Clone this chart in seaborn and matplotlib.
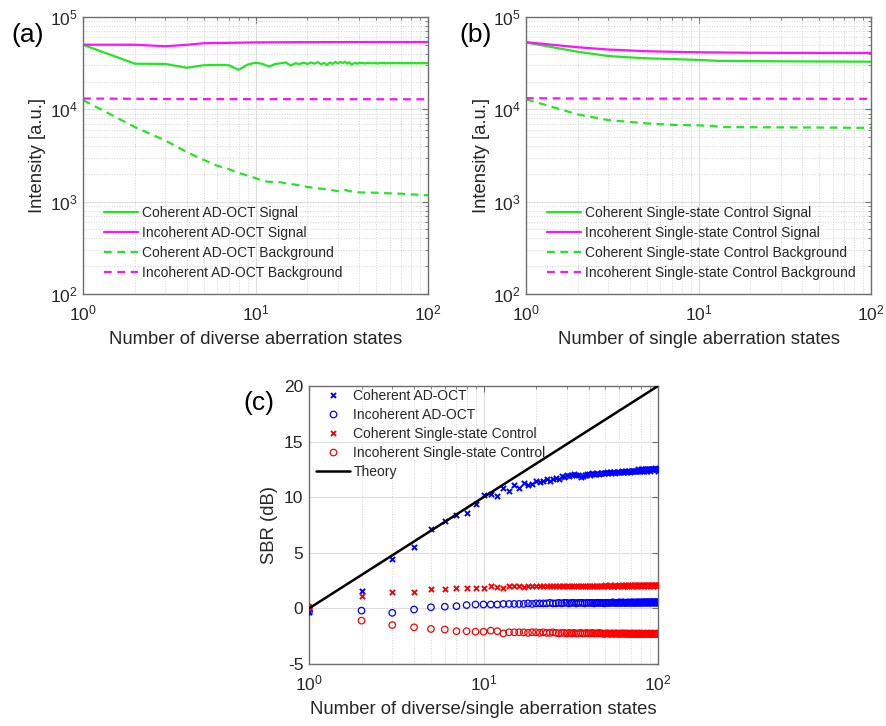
import numpy as np
import pandas as pd
import matplotlib
matplotlib.use("Agg")
import matplotlib.pyplot as plt
import seaborn as sns
from matplotlib.lines import Line2D
from matplotlib.ticker import LogLocator, NullFormatter, FixedLocator

# ---------------- data ----------------
N_full = list(range(1, 101))

# Panel (a): AD-OCT
a_coh_sig = [50000, 31200, 31000, 28200, 30000, 30300, 30000, 26800, 30500, 32000,
             31000, 29000, 31000, 31500, 32200, 29800, 31500, 31000, 32000, 31000,
             32200, 31200, 32400, 30800, 31800, 30200, 32200, 31000, 32600, 31500,
             32600, 31800, 32800, 31300, 32400, 30600, 31300, 31900, 31100, 32100,
             31500, 31900, 31300, 31800, 31600, 32000, 31400, 31800, 31500, 31900,
             31300, 31700, 31600, 31900, 31500, 31800, 31400, 31700, 31600, 31900,
             31500, 31800, 31600, 31700, 31500, 31800, 31600, 31900, 31500, 31700,
             31600, 31800, 31500, 31700, 31600, 31800, 31700, 31600, 31800, 31500,
             31700, 31600, 31800, 31600, 31700, 31500, 31700, 31600, 31800, 31600,
             31700, 31600, 31700, 31500, 31700, 31600, 31700, 31600, 31700, 31600]
a_inc_sig_N = [1, 2, 3, 4, 5, 6, 8, 10, 15, 20, 30, 50, 100]
a_inc_sig = [50100, 50100, 48200, 50000, 52000, 52300, 52700, 53100, 53300, 53400, 53500, 53600, 53600]
a_coh_bg_N = [1, 2, 3, 4, 5, 6, 7, 8, 9, 10, 11, 12, 13, 14, 15, 17, 20, 25, 30, 33, 35, 40, 50, 60, 70, 80, 100]
a_coh_bg = [12600, 6420, 4600, 3440, 2840, 2450, 2250, 2040, 1920, 1800, 1680, 1640, 1640, 1620, 1580, 1530,
            1440, 1370, 1300, 1340, 1300, 1260, 1250, 1230, 1220, 1200, 1170]
a_inc_bg_N = [1, 2, 5, 10, 100]
a_inc_bg = [13100, 13000, 12900, 12900, 12850]

# Panel (b): single-state control
b_coh_sig_N = [1, 2, 3, 4, 5, 7, 10, 13, 20, 30, 50, 100]
b_coh_sig = [53000, 42000, 37800, 36500, 35700, 35000, 34300, 33500, 33300, 33100, 33000, 32800]
b_inc_sig_N = [1, 2, 3, 4, 5, 7, 10, 15, 20, 30, 50, 100]
b_inc_sig = [53400, 47000, 44400, 43400, 42600, 42000, 41500, 41200, 41000, 40900, 40800, 40800]
b_coh_bg_N = [1, 2, 3, 4, 5, 7, 10, 12, 14, 20, 50, 100]
b_coh_bg = [12850, 8800, 7650, 7300, 7050, 6800, 6700, 6600, 6420, 6400, 6350, 6300]
b_inc_bg_N = [1, 2, 5, 10, 100]
b_inc_bg = [13200, 13100, 13050, 13050, 13000]

# Panel (c): SBR (dB)
c_coh_ad = [-0.3, 1.6, 4.4, 5.5, 7.1, 7.9, 8.4, 8.6, 9.4, 10.2,
            10.3, 10.1, 10.8, 10.6, 11.1, 10.8, 11.3, 11.1, 11.2, 11.5,
            11.4, 11.5, 11.6, 11.5, 11.6, 11.7, 11.6, 11.9, 11.8, 12.0,
            11.9, 12.0, 12.1, 12.0, 12.0, 11.8, 11.9, 12.0, 12.1, 12.1,
            12.0, 12.2, 12.1, 12.1, 12.2, 12.1, 12.2, 12.2, 12.2, 12.2,
            12.3, 12.2, 12.3, 12.2, 12.3, 12.3, 12.2, 12.3, 12.3, 12.3,
            12.3, 12.4, 12.3, 12.3, 12.4, 12.3, 12.4, 12.4, 12.3, 12.4,
            12.4, 12.4, 12.4, 12.4, 12.4, 12.4, 12.5, 12.4, 12.4, 12.5,
            12.4, 12.5, 12.4, 12.5, 12.5, 12.4, 12.5, 12.5, 12.5, 12.4,
            12.5, 12.5, 12.5, 12.5, 12.5, 12.6, 12.5, 12.5, 12.5, 12.4]
c_inc_ad = [-0.3, -0.2, -0.4, -0.1, 0.1, 0.15, 0.2, 0.3, 0.35, 0.35,
            0.35, 0.35, 0.4, 0.4, 0.4, 0.4, 0.4, 0.45, 0.4, 0.45,
            0.45, 0.45, 0.45, 0.5, 0.45, 0.45, 0.5, 0.45, 0.5, 0.5,
            0.45, 0.5, 0.5, 0.45, 0.5, 0.5, 0.5, 0.45, 0.5, 0.5,
            0.5, 0.5, 0.45, 0.5, 0.5, 0.5, 0.5, 0.5, 0.45, 0.5,
            0.5, 0.5, 0.5, 0.5, 0.55, 0.5, 0.5, 0.5, 0.5, 0.55,
            0.5, 0.5, 0.55, 0.5, 0.5, 0.5, 0.55, 0.5, 0.5, 0.55,
            0.5, 0.55, 0.5, 0.5, 0.55, 0.5, 0.55, 0.5, 0.55, 0.5,
            0.55, 0.5, 0.55, 0.55, 0.5, 0.55, 0.55, 0.5, 0.55, 0.55,
            0.5, 0.55, 0.55, 0.55, 0.5, 0.55, 0.55, 0.55, 0.5, 0.55]
c_coh_ss = [0.1, 1.15, 1.45, 1.5, 1.7, 1.7, 1.8, 1.8, 1.85, 1.8,
            2.0, 1.9, 1.8, 2.0, 2.0, 2.0, 1.95, 2.0, 2.0, 2.0,
            2.0, 2.05, 2.0, 2.0, 2.05, 2.0, 2.0, 2.05, 2.0, 2.05,
            2.0, 2.05, 2.05, 2.0, 2.05, 2.0, 2.05, 2.05, 2.0, 2.05,
            2.05, 2.0, 2.05, 2.05, 2.05, 2.0, 2.05, 2.05, 2.05, 2.1,
            2.05, 2.05, 2.1, 2.05, 2.05, 2.05, 2.1, 2.05, 2.05, 2.1,
            2.05, 2.1, 2.05, 2.05, 2.1, 2.05, 2.1, 2.05, 2.1, 2.05,
            2.1, 2.05, 2.1, 2.1, 2.05, 2.1, 2.05, 2.1, 2.1, 2.05,
            2.1, 2.1, 2.05, 2.1, 2.1, 2.05, 2.1, 2.1, 2.1, 2.05,
            2.1, 2.1, 2.1, 2.05, 2.1, 2.1, 2.1, 2.1, 2.05, 2.1]
c_inc_ss = [0.1, -1.1, -1.5, -1.7, -1.85, -1.9, -2.05, -2.05, -2.1, -2.1,
            -2.0, -2.05, -2.25, -2.15, -2.15, -2.15, -2.15, -2.2, -2.15, -2.15,
            -2.2, -2.15, -2.2, -2.2, -2.15, -2.2, -2.25, -2.2, -2.2, -2.25,
            -2.2, -2.25, -2.2, -2.25, -2.25, -2.2, -2.25, -2.25, -2.2, -2.25,
            -2.25, -2.2, -2.25, -2.25, -2.25, -2.2, -2.25, -2.25, -2.3, -2.25,
            -2.25, -2.25, -2.3, -2.25, -2.25, -2.3, -2.25, -2.25, -2.3, -2.25,
            -2.3, -2.25, -2.25, -2.3, -2.25, -2.3, -2.25, -2.3, -2.3, -2.25,
            -2.3, -2.25, -2.3, -2.3, -2.25, -2.3, -2.3, -2.25, -2.3, -2.3,
            -2.25, -2.3, -2.3, -2.3, -2.25, -2.3, -2.3, -2.3, -2.25, -2.3,
            -2.3, -2.3, -2.25, -2.3, -2.3, -2.3, -2.3, -2.25, -2.3, -2.3]
theory_N = [1, 2, 5, 10, 20, 50, 100]
theory_db = [0.0, 3.01, 6.99, 10.0, 13.01, 16.99, 20.0]

legend_a = ["Coherent AD-OCT Signal", "Incoherent AD-OCT Signal",
            "Coherent AD-OCT Background", "Incoherent AD-OCT Background"]
legend_b = ["Coherent Single-state Control Signal", "Incoherent Single-state Control Signal",
            "Coherent Single-state Control Background", "Incoherent Single-state Control Background"]
legend_c = ["Coherent AD-OCT", "Incoherent AD-OCT", "Coherent Single-state Control",
            "Incoherent Single-state Control", "Theory"]

# ---------------- style ----------------
sns.set_style("white")
plt.rcParams['font.family'] = ['Liberation Sans', 'DejaVu Sans']
plt.rcParams['mathtext.fontset'] = 'custom'
plt.rcParams['mathtext.rm'] = 'Liberation Sans'
plt.rcParams['mathtext.it'] = 'Liberation Sans:italic'
plt.rcParams['mathtext.bf'] = 'Liberation Sans:bold'
plt.rcParams['axes.unicode_minus'] = False

GREEN = '#22e622'
MAG = '#ff10ff'
BLUE = '#0000ff'
RED = '#ff0000'
TXT = '#262626'
LW = 1.6
DASH = (3.5, 2.5)
LABEL_FS = 13.3
LEG_FS = 10.0

fig = plt.figure(figsize=(8.86, 7.26), dpi=100)
W, H = 886, 726


def add_ax(l, t, r, b):
    return fig.add_axes([l / W, 1 - b / H, (r - l) / W, (b - t) / H])


ax_a = add_ax(83, 17, 428, 294)
ax_b = add_ax(526, 17, 871, 294)
ax_c = add_ax(309, 386, 658, 664)


def style(ax, logy=True):
    ax.set_xscale('log')
    ax.set_xlim(1, 100)
    if logy:
        ax.set_yscale('log')
        ax.set_ylim(1e2, 1e5)
        ax.yaxis.set_minor_locator(LogLocator(base=10, subs=np.arange(2, 10)))
        ax.yaxis.set_minor_formatter(NullFormatter())
    ax.xaxis.set_minor_locator(LogLocator(base=10, subs=np.arange(2, 10)))
    ax.xaxis.set_minor_formatter(NullFormatter())
    for s in ax.spines.values():
        s.set_visible(True)
        s.set_color('#6e6e6e')
        s.set_linewidth(1.0)
    ax.tick_params(which='both', direction='in', top=True, right=True,
                   color='#6e6e6e', labelcolor=TXT, labelsize=12.5)
    ax.tick_params(which='major', length=4, width=0.8)
    ax.tick_params(which='minor', length=2, width=0.6)
    ax.tick_params(axis='x', which='major', pad=7)
    ax.tick_params(axis='y', which='major', pad=4)
    ax.grid(True, which='major', color='#dedede', linewidth=0.8, linestyle='-')
    if logy:
        ax.grid(True, which='minor', color='#d4d4d4', linewidth=0.7, linestyle=':')
    else:
        ax.grid(True, which='minor', axis='x', color='#d4d4d4', linewidth=0.7, linestyle=':')
    ax.set_axisbelow(True)


def line(ax, x, y, color, ls):
    sns.lineplot(x=x, y=y, ax=ax, color=color, linewidth=LW, linestyle=ls,
                 estimator=None, sort=True)
    if ls == '--':
        ax.lines[-1].set_dashes(DASH)


# ---- panel (a)
line(ax_a, N_full, a_coh_sig, GREEN, '-')
line(ax_a, a_inc_sig_N, a_inc_sig, MAG, '-')
line(ax_a, a_coh_bg_N, a_coh_bg, GREEN, '--')
line(ax_a, a_inc_bg_N, a_inc_bg, MAG, '--')

# ---- panel (b)
line(ax_b, b_coh_sig_N, b_coh_sig, GREEN, '-')
line(ax_b, b_inc_sig_N, b_inc_sig, MAG, '-')
line(ax_b, b_coh_bg_N, b_coh_bg, GREEN, '--')
line(ax_b, b_inc_bg_N, b_inc_bg, MAG, '--')

for ax, labels in ((ax_a, legend_a), (ax_b, legend_b)):
    style(ax, logy=True)
    handles = [Line2D([], [], color=GREEN, lw=LW, ls='-'),
               Line2D([], [], color=MAG, lw=LW, ls='-'),
               Line2D([], [], color=GREEN, lw=LW, ls=(0, DASH)),
               Line2D([], [], color=MAG, lw=LW, ls=(0, DASH))]
    ax.legend(handles, labels, loc='upper left', bbox_to_anchor=(0.061, 0.318),
              frameon=False, fontsize=LEG_FS, borderpad=0, borderaxespad=0,
              handlelength=2.45, handletextpad=0.25, labelspacing=0.43)
    ax.set_ylabel("Intensity [a.u.]", fontsize=LABEL_FS, color=TXT)
    ax.yaxis.label.set_va('center')
    ax.yaxis.set_label_coords(-45 / 345, 0.5)

ax_a.set_xlabel("Number of diverse aberration states", fontsize=LABEL_FS, color=TXT)
ax_b.set_xlabel("Number of single aberration states", fontsize=LABEL_FS, color=TXT)
for ax in (ax_a, ax_b):
    ax.xaxis.label.set_va('center')
    ax.xaxis.set_label_coords(0.5, -46 / 277)

# ---- panel (c)
def scat(x, y, color, marker):
    sns.scatterplot(x=x, y=y, ax=ax_c, marker=marker, s=22 if marker == 'o' else 14,
                    legend=False, zorder=3)
    coll = ax_c.collections[-1]
    if marker == 'o':
        coll.set_facecolor('none')
        coll.set_edgecolor(color)
        coll.set_linewidth(0.9)
    else:
        coll.set_facecolor(color)
        coll.set_edgecolor(color)
        coll.set_linewidth(1.4)


scat(N_full, c_coh_ad, BLUE, 'x')
scat(N_full, c_inc_ad, BLUE, 'o')
scat(N_full, c_coh_ss, RED, 'x')
scat(N_full, c_inc_ss, RED, 'o')
sns.lineplot(x=theory_N, y=theory_db, ax=ax_c, color='black', linewidth=1.8, estimator=None, zorder=4)

style(ax_c, logy=False)
ax_c.set_ylim(-5, 20)
ax_c.yaxis.set_major_locator(FixedLocator([-5, 0, 5, 10, 15, 20]))
ax_c.set_ylabel("SBR (dB)", fontsize=LABEL_FS, color=TXT)
ax_c.yaxis.label.set_va('center')
ax_c.yaxis.set_label_coords(-40 / 349, 0.5)
ax_c.set_xlabel("Number of diverse/single aberration states", fontsize=LABEL_FS, color=TXT)
ax_c.xaxis.label.set_va('center')
ax_c.xaxis.set_label_coords(0.5, -46 / 278)

handles_c = [Line2D([], [], color=BLUE, marker='x', ls='none', ms=3.6, mew=1.4),
             Line2D([], [], color=BLUE, marker='o', ls='none', ms=4.7, mew=0.9, mfc='none'),
             Line2D([], [], color=RED, marker='x', ls='none', ms=3.6, mew=1.4),
             Line2D([], [], color=RED, marker='o', ls='none', ms=4.7, mew=0.9, mfc='none'),
             Line2D([], [], color='black', lw=1.8)]
ax_c.legend(handles_c, legend_c, loc='upper left', bbox_to_anchor=(0.02, 0.989),
            frameon=False, fontsize=LEG_FS, borderpad=0, borderaxespad=0,
            handlelength=2.45, handletextpad=0.25, labelspacing=0.36, numpoints=1)

# panel letters
fig.text(28 / W, 1 - 35 / H, "(a)", fontsize=19, ha='center', va='center', color='black')
fig.text(476 / W, 1 - 35 / H, "(b)", fontsize=19, ha='center', va='center', color='black')
fig.text(259 / W, 1 - 403 / H, "(c)", fontsize=19, ha='center', va='center', color='black')

fig.savefig("out.png", dpi=100, facecolor='white')
